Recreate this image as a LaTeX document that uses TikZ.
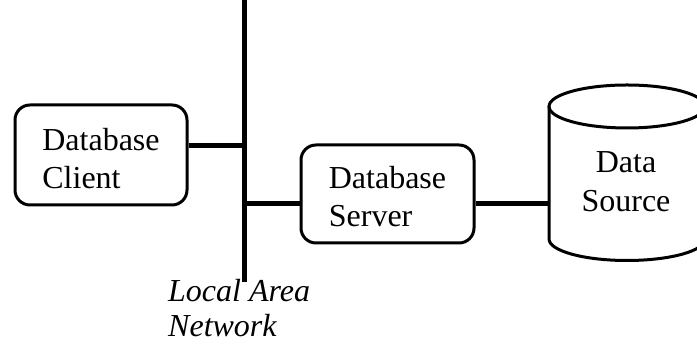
\documentclass[tikz,border=0pt]{standalone}
\usepackage{fontspec}
\setmainfont{Liberation Serif}
\begin{document}
\begin{tikzpicture}[x=1pt,y=1pt,
  box/.style={draw, line width=3pt, rounded corners=15pt, align=left,
    font=\fontsize{32}{38}\selectfont, inner sep=0pt},
  conn/.style={line width=5pt},
  lbl/.style={font=\fontsize{32}{35}\selectfont\itshape, align=left, inner sep=0pt}]
\useasboundingbox (0,0) rectangle (697,344);
% LAN bus
\coordinate (lantop) at (244,344);
\coordinate (lanbot) at (244,62);
\draw[conn] (lantop) -- (lanbot);
% boxes
\node[box, minimum width=172pt, minimum height=100pt] (client) at (101,189) {\rule{0pt}{30pt}Database\\Client};
\node[box, minimum width=173pt, minimum height=98pt] (server) at (387.5,150) {\rule{0pt}{28pt}Database\\Server};
% data source cylinder
\node[inner sep=0pt, minimum width=156pt, minimum height=175pt] (ds) at (627,171.5) {};
\draw[line width=3pt] (627,237.5) ellipse [x radius=78, y radius=21.5];
\draw[line width=3pt] (549,237.5) -- (549,105) arc[start angle=180, end angle=360, x radius=78, y radius=21.5] -- (705,237.5);
\node[align=center, font=\fontsize{32}{39}\selectfont, inner sep=0pt] (dstext) at (626,162) {Data\\Source};
% connectors
\draw[conn] ([yshift=9pt]client.east) -- ([yshift=9pt]client.east -| lantop);
\draw[conn] ([yshift=-10pt]server.west -| lantop) -- ([yshift=-10pt]server.west);
\draw[conn] ([yshift=-10pt]server.east) -- ([yshift=-10pt]server.east -| ds.west);
% label
\node[lbl, anchor=base west] (lanlabel) at (168,7) {Local Area\\Network};
\end{tikzpicture}
\end{document}
